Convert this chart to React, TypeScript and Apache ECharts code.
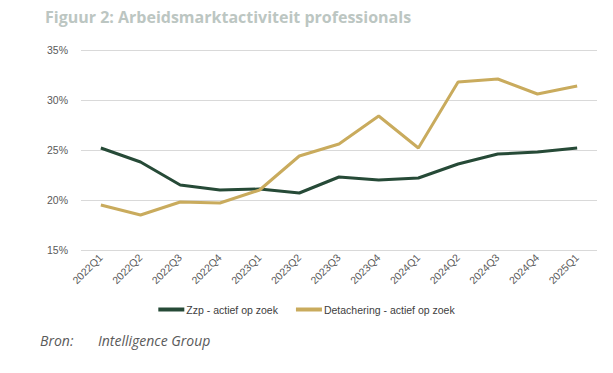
import React, { useEffect, useRef } from "react";
import * as echarts from "echarts";

const categories = [
  "2022Q1", "2022Q2", "2022Q3", "2022Q4",
  "2023Q1", "2023Q2", "2023Q3", "2023Q4",
  "2024Q1", "2024Q2", "2024Q3", "2024Q4", "2025Q1",
];
const zzp = [25.2, 23.8, 21.5, 21.0, 21.1, 20.7, 22.3, 22.0, 22.2, 23.6, 24.6, 24.8, 25.2];
const detachering = [19.5, 18.5, 19.8, 19.7, 21.0, 24.4, 25.6, 28.4, 25.2, 31.8, 32.1, 30.6, 31.4];
const seriesNames = ["Zzp - actief op zoek", "Detachering - actief op zoek"];
const titleText = "Figuur 2: Arbeidsmarktactiviteit professionals";
const sourceLabel = "Bron:";
const sourceText = "Intelligence Group";

export default function App() {
  const ref = useRef<HTMLDivElement>(null);
  useEffect(() => {
    document.body.style.margin = "0";
    const chart = echarts.init(ref.current!, null, { renderer: "svg" });
    chart.setOption({
      animation: false,
      backgroundColor: "#ffffff",
      title: {
        text: titleText,
        left: 40,
        top: 4,
        textStyle: {
          fontFamily: "Open Sans",
          fontWeight: 700,
          fontSize: 16,
          color: "#bcc6c2",
        },
      },
      grid: { left: 81, right: 16, top: 50, bottom: 123, containLabel: false },
      legend: {
        top: 299,
        left: "center",
        itemWidth: 26,
        itemHeight: 4,
        itemGap: 18,
        icon: "rect",
        textStyle: { fontFamily: "Liberation Sans", fontSize: 10.5, color: "#404040", padding: [0, 0, 0, -3] },
        data: seriesNames,
      },
      xAxis: {
        type: "category",
        data: categories,
        boundaryGap: true,
        axisLine: { show: false },
        axisTick: { show: false },
        axisLabel: {
          rotate: 45,
          fontFamily: "Liberation Sans",
          fontSize: 10.5,
          color: "#595959",
          margin: 6,
          interval: 0,
        },
      },
      yAxis: {
        type: "value",
        min: 15,
        max: 35,
        interval: 5,
        axisLine: { show: false },
        axisTick: { show: false },
        splitLine: { lineStyle: { color: "#d9d9d9", width: 1 } },
        axisLabel: {
          formatter: "{value}%",
          fontFamily: "Liberation Sans",
          fontSize: 10.5,
          color: "#595959",
          margin: 13,
        },
      },
      series: [
        {
          name: seriesNames[0],
          type: "line",
          data: zzp,
          showSymbol: false,
          symbol: "none",
          lineStyle: { color: "#264a37", width: 3 },
          itemStyle: { color: "#264a37" },
        },
        {
          name: seriesNames[1],
          type: "line",
          data: detachering,
          showSymbol: false,
          symbol: "none",
          lineStyle: { color: "#c9ab5d", width: 3 },
          itemStyle: { color: "#c9ab5d" },
        },
      ],
      graphic: [
        {
          type: "text",
          left: 40,
          top: 333,
          style: {
            text: sourceLabel,
            font: "italic 14px 'Open Sans'",
            fill: "#5a5a5a",
          },
        },
        {
          type: "text",
          left: 98,
          top: 333,
          style: {
            text: sourceText,
            font: "italic 14px 'Open Sans'",
            fill: "#5a5a5a",
          },
        },
      ],
    });
    return () => chart.dispose();
  }, []);
  return <div ref={ref} style={{ width: 613, height: 373 }} />;
}
